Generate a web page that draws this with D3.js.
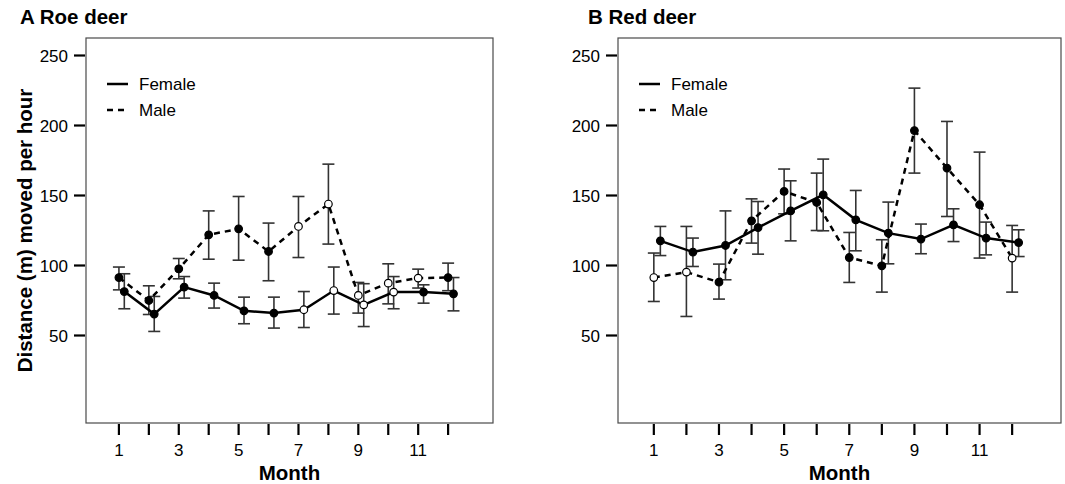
<!DOCTYPE html>
<html>
<head><meta charset="utf-8">
<title>Distance moved per hour</title>
<style>
body { margin:0; background:#fff; }
svg text { font-family: "Liberation Sans", Arial, sans-serif; fill:#000; }
</style>
</head>
<body>
<svg width="1065" height="484"></svg>
<script src="https://d3js.org/d3.v7.min.js"></script>
<script>
// months on the x axis
var months = [1,2,3,4,5,6,7,8,9,10,11,12];
var monthLabels = [1,3,5,7,9,11];
var yTicks = [50,100,150,200,250];

// A Roe deer
var roeFemale     = [81.4, 65.3, 84.6, 78.6, 67.6, 66.0, 68.4, 82.1, 71.9, 81.0, 81.0, 79.8];
var roeFemaleLow  = [69.1, 52.9, 76.7, 69.6, 58.4, 55.3, 55.7, 65.3, 56.4, 69.1, 73.1, 67.6];
var roeFemaleHigh = [94.1, 77.9, 92.1, 87.4, 77.4, 77.4, 81.4, 98.9, 87.0, 92.1, 86.2, 91.4];
var roeFemaleOpen = [7,8,9,10];
var roeMale       = [91.4, 75.0, 97.6, 121.9, 126.2, 110.0, 127.9, 143.9, 78.6, 87.4, 91.0, 91.4];
var roeMaleLow    = [82.6, 65.0, 90.5, 104.5, 103.8, 89.1, 105.7, 115.3, 66.0, 72.6, 83.9, 82.0];
var roeMaleHigh   = [98.9, 85.5, 105.0, 139.0, 149.3, 130.3, 149.3, 172.4, 87.9, 101.2, 97.4, 101.7];
var roeMaleOpen   = [7,8,9,10,11];

// B Red deer
var redFemale     = [117.6, 109.6, 114.3, 127.1, 139.0, 150.5, 132.6, 123.1, 118.9, 129.0, 119.6, 116.4];
var redFemaleLow  = [107.1, 99.3, 89.8, 108.1, 117.6, 124.8, 110.5, 101.2, 108.4, 117.1, 107.6, 106.4];
var redFemaleHigh = [127.9, 119.6, 139.0, 145.7, 160.5, 176.0, 153.6, 145.3, 129.6, 140.5, 131.0, 125.5];
var redFemaleOpen = [];
var redMale       = [91.4, 95.3, 88.1, 131.9, 152.9, 145.0, 105.7, 99.8, 196.4, 169.6, 143.4, 105.3];
var redMaleLow    = [74.3, 63.6, 76.0, 116.0, 136.9, 125.0, 87.9, 81.0, 166.0, 135.0, 105.3, 81.0];
var redMaleHigh   = [108.9, 127.9, 101.0, 147.6, 168.9, 166.0, 123.6, 118.4, 226.7, 202.9, 181.0, 128.6];
var redMaleOpen   = [1,2,12];

var svg = d3.select("svg");

var y = d3.scaleLinear().domain([-12.5, 262.5]).range([423, 38]);

function series(mean, low, high, open, shift) {
  return months.map(function(m, i) {
    return { m: m + shift, v: mean[i], lo: low[i], hi: high[i], open: open.indexOf(m) >= 0 };
  });
}

function panel(opts) {
  var x = d3.scaleLinear().domain([-0.1, 13.5]).range([opts.left, opts.right]);
  var g = svg.append("g");

  // box
  g.append("rect")
    .attr("x", opts.left).attr("y", 38)
    .attr("width", opts.right - opts.left).attr("height", 423 - 38)
    .attr("fill", "none").attr("stroke", "#4a4a4a").attr("stroke-width", 1.2);

  // y ticks
  yTicks.forEach(function(t) {
    g.append("line").attr("x1", opts.left - 12).attr("x2", opts.left - 1)
      .attr("y1", y(t)).attr("y2", y(t)).attr("stroke", "#000").attr("stroke-width", 2.2);
    g.append("text").attr("x", opts.left - 18).attr("y", y(t) + 6)
      .attr("text-anchor", "end").style("font-size", "17px").text(t);
  });

  // x ticks
  months.forEach(function(m) {
    g.append("line").attr("x1", x(m)).attr("x2", x(m))
      .attr("y1", 424).attr("y2", 435).attr("stroke", "#000").attr("stroke-width", 2.2);
  });
  monthLabels.forEach(function(m) {
    g.append("text").attr("x", x(m)).attr("y", 456)
      .attr("text-anchor", "middle").style("font-size", "17px").text(m);
  });

  g.append("text").attr("x", (opts.left + opts.right) / 2).attr("y", 480)
    .attr("text-anchor", "middle").style("font-size", "20.5px").style("font-weight", "bold")
    .text("Month");

  g.append("text").attr("x", opts.titleX).attr("y", 24)
    .style("font-size", "20.5px").style("font-weight", "bold").text(opts.title);

  // legend
  var lx = opts.left + 21;
  [["Female", null, 84], ["Male", "6,5", 110]].forEach(function(d) {
    g.append("line").attr("x1", lx).attr("x2", lx + 21).attr("y1", d[2]).attr("y2", d[2])
      .attr("stroke", "#000").attr("stroke-width", 2.5).attr("stroke-dasharray", d[1]);
    g.append("text").attr("x", lx + 32).attr("y", d[2] + 6)
      .style("font-size", "17px").text(d[0]);
  });

  var line = d3.line().x(function(d) { return x(d.m); }).y(function(d) { return y(d.v); });

  // error bars
  opts.groups.forEach(function(s) {
    s.data.forEach(function(d) {
      g.append("line").attr("x1", x(d.m)).attr("x2", x(d.m))
        .attr("y1", y(d.lo)).attr("y2", y(d.hi)).attr("stroke", "#333").attr("stroke-width", 1.6);
      [d.lo, d.hi].forEach(function(v) {
        g.append("line").attr("x1", x(d.m) - 6).attr("x2", x(d.m) + 6)
          .attr("y1", y(v)).attr("y2", y(v)).attr("stroke", "#333").attr("stroke-width", 1.6);
      });
    });
  });

  opts.groups.forEach(function(s) {
    g.append("path").datum(s.data).attr("d", line)
      .attr("fill", "none").attr("stroke", "#000").attr("stroke-width", 2.5)
      .attr("stroke-dasharray", s.dash);
  });

  opts.groups.forEach(function(s) {
    g.selectAll(null).data(s.data).enter().append("circle")
      .attr("cx", function(d) { return x(d.m); })
      .attr("cy", function(d) { return y(d.v); })
      .attr("r", 3.8)
      .attr("fill", function(d) { return d.open ? "#fff" : "#000"; })
      .attr("stroke", "#000").attr("stroke-width", 1.2);
  });
}

panel({
  left: 86, right: 493, title: "A Roe deer", titleX: 20,
  groups: [
    { data: series(roeMale, roeMaleLow, roeMaleHigh, roeMaleOpen, 0), dash: "6,5" },
    { data: series(roeFemale, roeFemaleLow, roeFemaleHigh, roeFemaleOpen, 0.18), dash: null }
  ]
});

panel({
  left: 618, right: 1061, title: "B Red deer", titleX: 588,
  groups: [
    { data: series(redMale, redMaleLow, redMaleHigh, redMaleOpen, 0), dash: "6,5" },
    { data: series(redFemale, redFemaleLow, redFemaleHigh, redFemaleOpen, 0.2), dash: null }
  ]
});

// y axis title
svg.append("text")
  .attr("transform", "translate(32," + y(125) + ") rotate(-90)")
  .attr("text-anchor", "middle")
  .style("font-size", "20.5px").style("font-weight", "bold")
  .text("Distance (m) moved per hour");
</script>
</body>
</html>
